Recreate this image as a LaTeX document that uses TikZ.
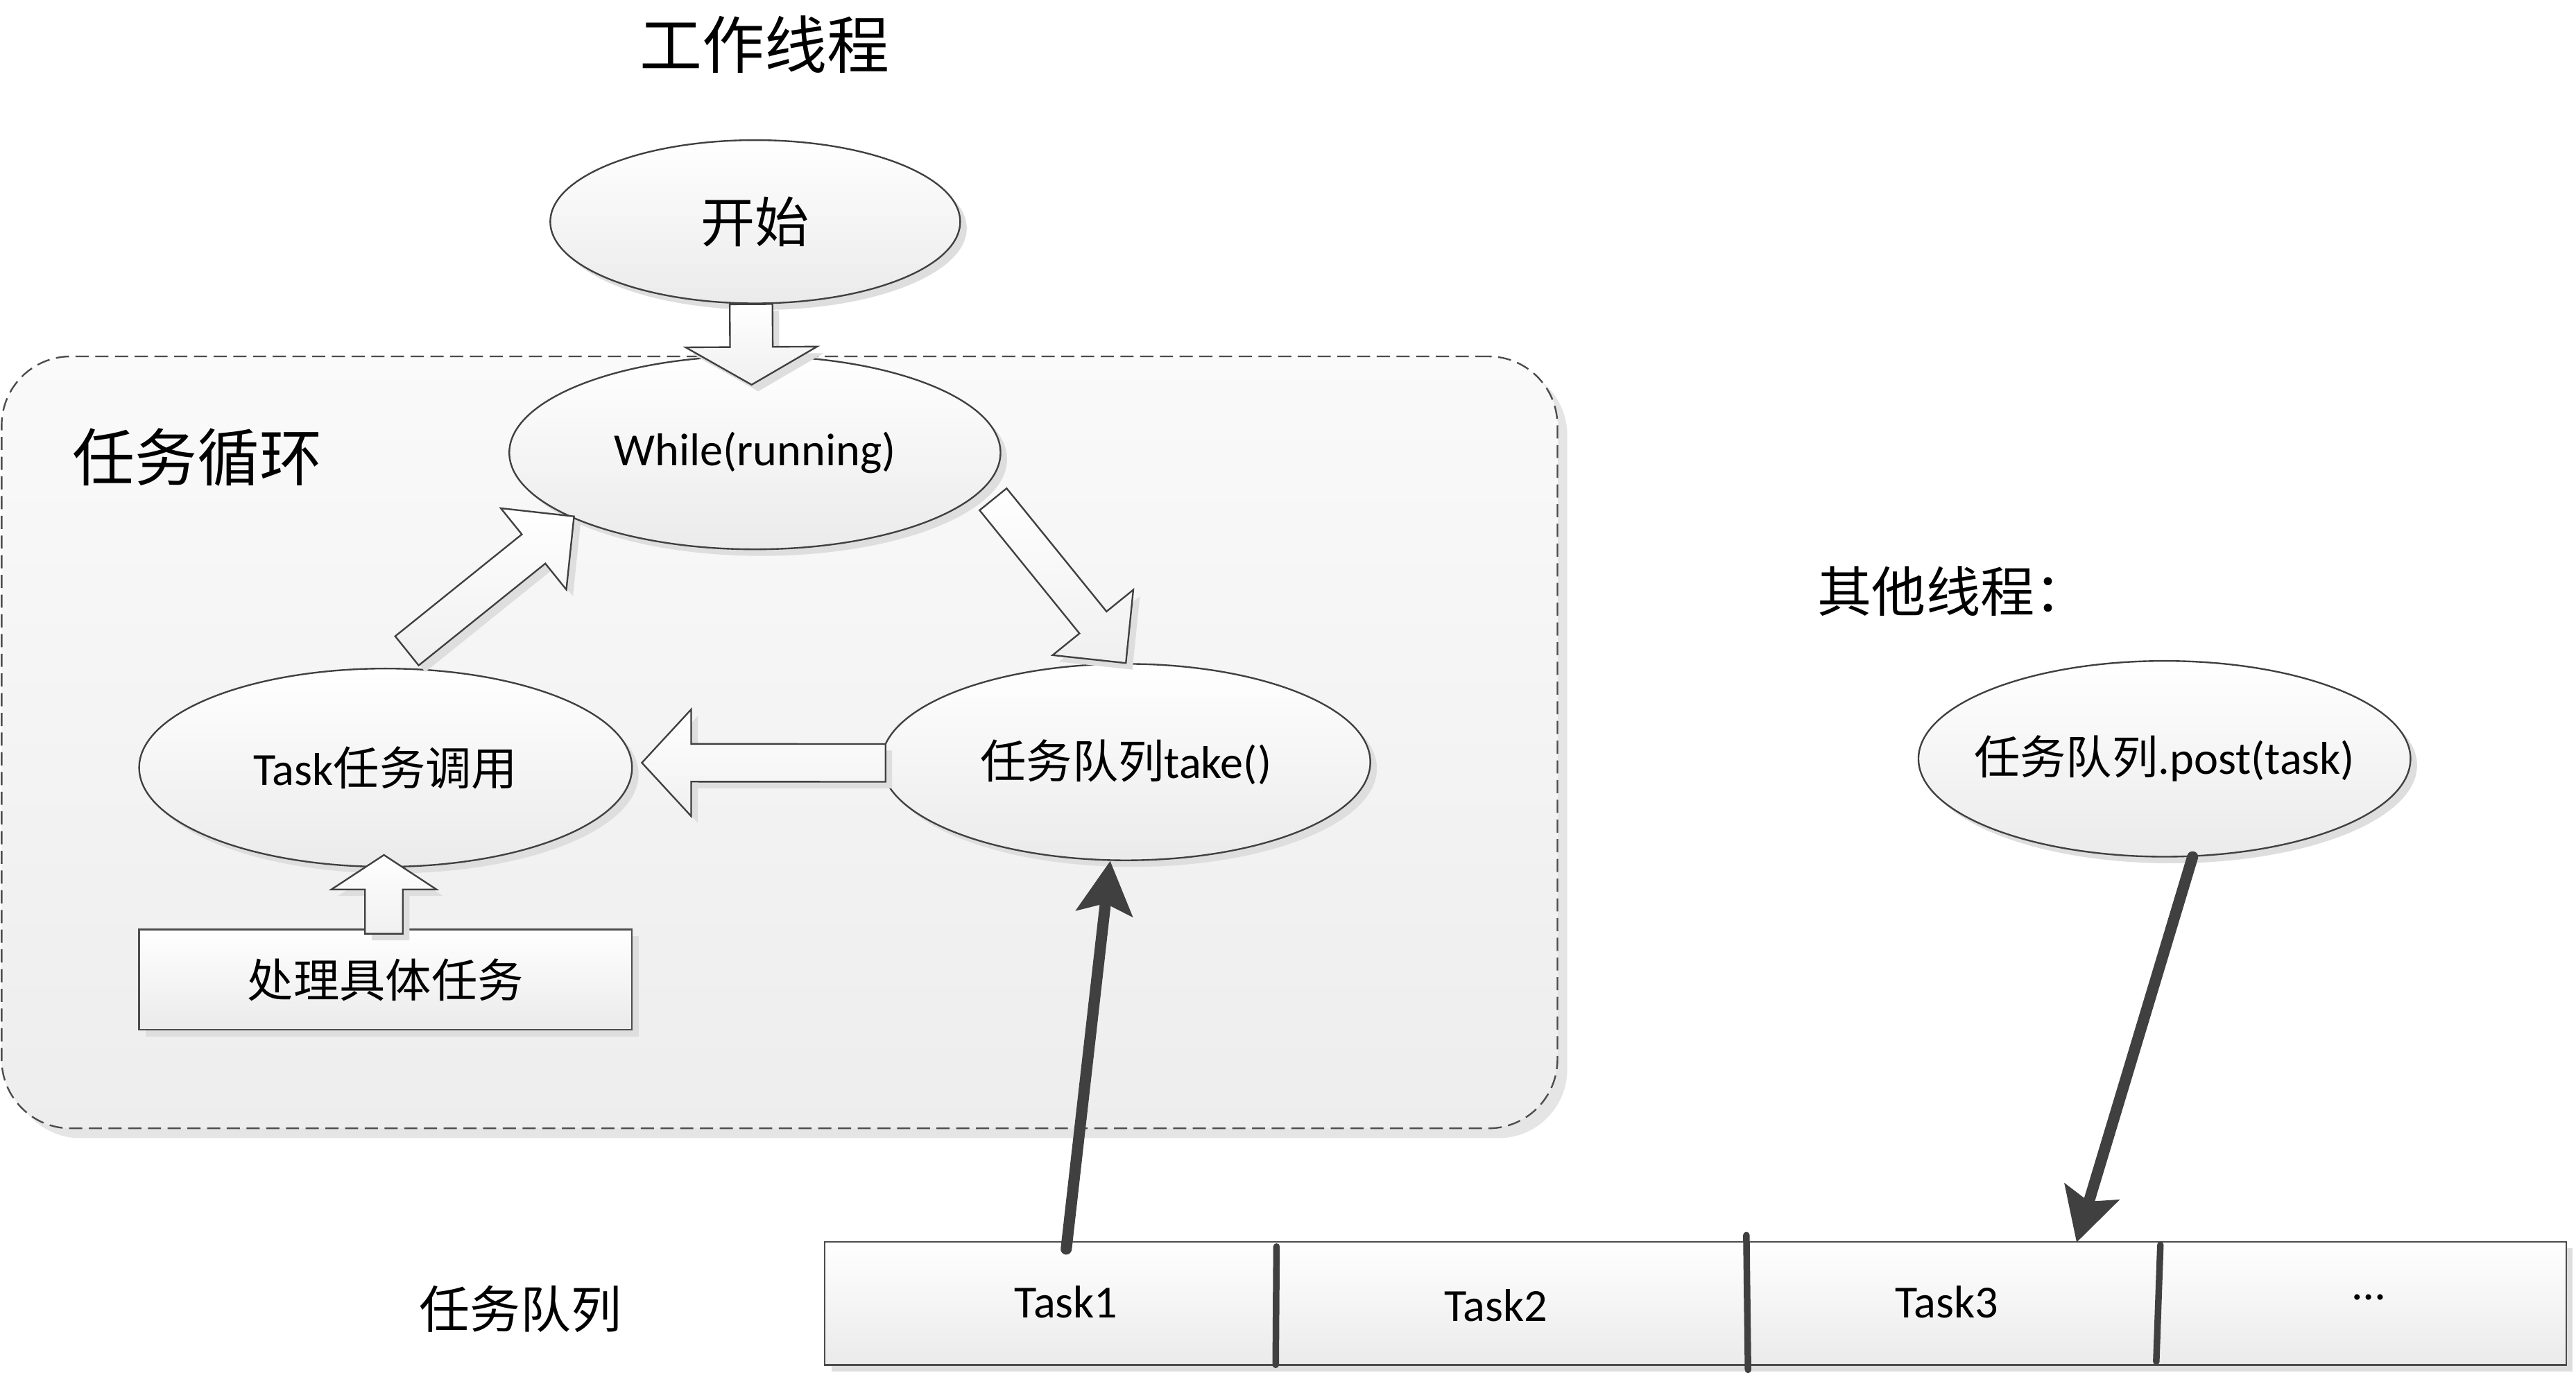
\documentclass[tikz,border=0pt]{standalone}
\usepackage{fontspec}
\setmainfont{Carlito}
\newfontfamily\cjk{Noto Sans CJK SC}
\usetikzlibrary{shapes.geometric,shadows,calc,arrows.meta}
\newcommand\blockarrow[5]{%
  \coordinate (ba-b) at ($(#2)!#5!(#1)$);
  \path[barrow] ($(#1)!#3!90:(#2)$) -- ($(ba-b)!#3!-90:(#1)$) -- ($(ba-b)!#4!-90:(#1)$) -- (#2)
     -- ($(ba-b)!#4!90:(#1)$) -- ($(ba-b)!#3!90:(#1)$) -- ($(#1)!#3!-90:(#2)$) -- cycle;
}
\begin{document}
\begin{tikzpicture}[x=0.5pt,y=-0.5pt,
  shadowed/.style={drop shadow={shadow xshift=2pt,shadow yshift=-2pt,opacity=1,fill=black!13}},
  oval/.style={ellipse,draw=black!75,line width=0.5pt,top color=white,bottom color=black!8,
    shadowed,inner sep=0pt,font=\fontsize{14pt}{16pt}\selectfont},
  plainbox/.style={rectangle,draw=black!70,line width=0.5pt,top color=white,bottom color=black!8,
    shadowed,inner sep=0pt,font=\fontsize{14pt}{16pt}\selectfont},
  frame/.style={rectangle,draw=black!70,line width=0.5pt,dash pattern=on 4pt off 2pt,
    rounded corners=21pt,top color=black!2,bottom color=black!7,
    drop shadow={shadow xshift=3pt,shadow yshift=-3pt,opacity=1,fill=black!10},inner sep=0pt},
  barrow/.style={draw=black!75,line width=0.5pt,line join=miter,top color=white,bottom color=black!6,shadowed},
  bigarrow/.style={draw=black!75,line width=3.4pt,line cap=round,-{Stealth[length=16pt,width=17pt,inset=3pt]}},
  divider/.style={draw=black!75,line width=2pt,line cap=round},
  heading/.style={font=\cjk\fontsize{19pt}{22pt}\selectfont,inner sep=0pt},
  celltext/.style={font=\fontsize{14pt}{16pt}\selectfont,inner sep=0pt}
]
\useasboundingbox (0,0) rectangle (1568,837);

% titles
\node[heading] (title) at (465.5,27) {工作线程};

% task loop frame
\node[frame,minimum width=473.5pt,minimum height=235pt] (loopframe) at (474.5,452) {};
\node[heading] (looplabel) at (120,278.5) {任务循环};

% ellipses
\node[oval,minimum width=124.75pt,minimum height=49.7pt,font=\cjk\fontsize{16.5pt}{19pt}\selectfont] (start) at (459.7,135) {\makebox[0pt]{开始}};
\node[oval,minimum width=149.5pt,minimum height=58.85pt] (while) at (459.5,275.6) {\makebox[0pt]{While(running)}};
\node[oval,minimum width=148.8pt,minimum height=59.8pt] (take) at (685.3,464) {\makebox[0pt]{{\cjk 任务队列}take()}};
\node[oval,minimum width=150pt,minimum height=60.35pt] (call) at (234.7,467.4) {\makebox[0pt]{Task{\cjk 任务调用}}};
\node[plainbox,minimum width=150pt,minimum height=30.5pt] (proc) at (234.7,596.5) {\makebox[0pt]{\cjk 处理具体任务}};

% block arrows
\coordinate (s1) at ($(start.south)+(-2.5,0)$);
\coordinate (e1) at ($(while.north)+(-2,18)$);
\blockarrow{s1}{e1}{6.5pt}{20pt}{11.5pt}
\coordinate (s2) at ($(while.center)+(145,28.4)$);
\coordinate (e2) at (take.north);
\blockarrow{s2}{e2}{5.3pt}{15.8pt}{15.9pt}
\coordinate (s3) at ($(take.west)+(3,0.5)$);
\coordinate (e3) at ($(call.east)+(5.5,-3)$);
\blockarrow{s3}{e3}{5.75pt}{16.25pt}{15pt}
\coordinate (s4) at ($(call.north)+(13,-10.3)$);
\coordinate (e4) at ($(while.center)+(-110.1,38.8)$);
\blockarrow{s4}{e4}{5.7pt}{15.9pt}{15.8pt}
\coordinate (s5) at ($(proc.north)+(-1,3)$);
\coordinate (e5) at ($(call.south)+(-1,-7.7)$);
\blockarrow{s5}{e5}{5.75pt}{16pt}{10.5pt}

% other thread
\node[heading,anchor=west,font=\cjk\fontsize{16.5pt}{19pt}\selectfont] (others) at (1106,360) {其他线程：};
\node[oval,minimum width=149.75pt,minimum height=59.6pt] (post) at (1317.5,462) {\makebox[0pt]{{\cjk 任务队列}.post(task)}};

% queue
\node[font=\cjk\fontsize{15.4pt}{18pt}\selectfont,inner sep=0pt] (qlabel) at (317,797) {任务队列};
\node[plainbox,minimum width=530pt,minimum height=37.5pt] (queue) at (1032,793.5) {};
\draw[divider] (777,759) -- (776.5,831);
\draw[divider] (1063,752) -- (1064,834);
\draw[divider] (1315,758) -- (1312.5,829);
\node[celltext] (task1) at (649,792.6) {Task1};
\node[celltext] (task2) at (910.5,795) {Task2};
\node[celltext] (task3) at (1185,792.7) {Task3};
\node[celltext] (task4) at (1442,790) {…};

% thick arrows
\draw[bigarrow] ($(queue.north -| task1)+(0,5)$) -- (take.-99);
\coordinate (q3) at ($(queue.north)+(232,1)$);
\draw[bigarrow] (post.-74) -- (q3);
\end{tikzpicture}
\end{document}
